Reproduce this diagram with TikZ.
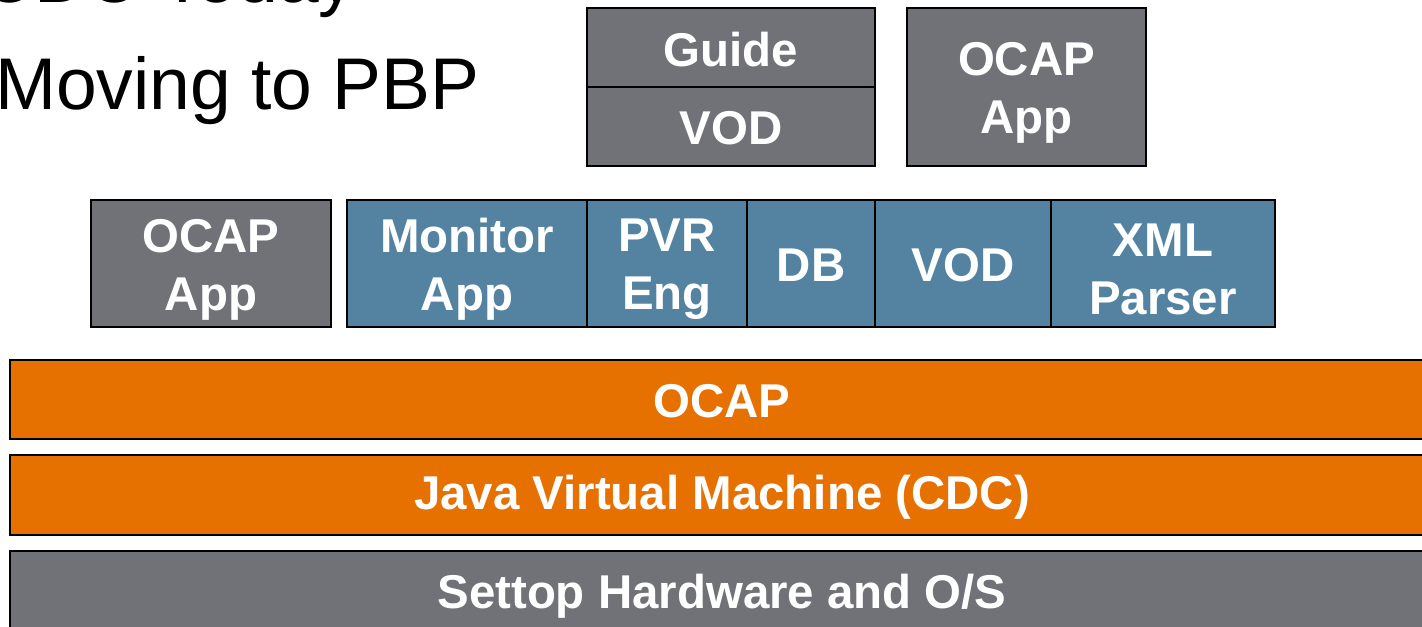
\documentclass[tikz,border=0pt]{standalone}
\usepackage{fontspec}
\setmainfont{Liberation Sans}
\definecolor{boxgray}{RGB}{113,114,119}
\definecolor{boxblue}{RGB}{84,131,162}
\definecolor{boxorange}{RGB}{230,112,0}
\begin{document}
\begin{tikzpicture}[x=1bp,y=-1bp,
  layer/.style={draw=black, line width=2bp, inner sep=0pt, outer sep=0pt, anchor=north west},
  graybox/.style={layer, fill=boxgray},
  bluebox/.style={layer, fill=boxblue},
  orangebox/.style={layer, fill=boxorange},
  boxtext/.style={inner sep=0pt, text=white, font=\fontsize{47.6}{58}\selectfont\bfseries,
    align=center, yshift=-2bp},
  boxtexttwo/.style={boxtext, yshift=-4bp},
  bartext/.style={boxtext, xshift=-3bp},
  titletext/.style={anchor=base west, inner sep=0pt, font=\fontsize{73.5}{88}\selectfont}]
\useasboundingbox (0,0) rectangle (1422,627);
\clip (0,0) rectangle (1422,627);
% title
\node[titletext] (t1) at (-19,3) {CDC Today};
\node[titletext] (t2) at (-5,110) {Moving to PBP};
% top row
\node[graybox, minimum width=288bp, minimum height=79bp] (guide) at (587,8) {};
\node[graybox, minimum width=288bp, minimum height=79bp] (vodtop) at (587,87) {};
\node[graybox, minimum width=239bp, minimum height=158bp] (ocaptop) at (907,8) {};
\node[boxtext] (guidet) at (guide.center) {Guide};
\node[boxtext] (vodtopt) at (vodtop.center) {VOD};
\node[boxtexttwo] (ocaptopt) at (ocaptop.center) {OCAP\\App};
% middle row
\node[graybox, minimum width=240bp, minimum height=127bp] (ocapmid) at (91,200) {};
\node[bluebox, minimum width=240bp, minimum height=127bp] (monitor) at (347,200) {};
\node[bluebox, minimum width=160bp, minimum height=127bp] (pvr) at (587,200) {};
\node[bluebox, minimum width=128bp, minimum height=127bp] (db) at (747,200) {};
\node[bluebox, minimum width=176bp, minimum height=127bp] (vodmid) at (875,200) {};
\node[bluebox, minimum width=224bp, minimum height=127bp] (xml) at (1051,200) {};
\node[boxtexttwo] (ocapmidt) at (ocapmid.center) {OCAP\\App};
\node[boxtexttwo] (monitort) at (monitor.center) {Monitor\\App};
\node[boxtexttwo] (pvrt) at (pvr.center) {PVR\\Eng};
\node[boxtext] (dbt) at (db.center) {DB};
\node[boxtext] (vodmidt) at (vodmid.center) {VOD};
\node[boxtexttwo] (xmlt) at (xml.center) {XML\\Parser};
% bars
\node[orangebox, minimum width=1430bp, minimum height=79bp] (ocap) at (10,360) {};
\node[orangebox, minimum width=1430bp, minimum height=80bp] (jvm) at (10,455) {};
\node[graybox, minimum width=1430bp, minimum height=86bp] (settop) at (10,551) {};
\node[bartext] (ocapt) at (ocap.center) {OCAP};
\node[bartext] (jvmt) at (jvm.center) {Java Virtual Machine (CDC)};
\node[bartext] (settopt) at (settop.center) {Settop Hardware and O/S};
\end{tikzpicture}
\end{document}
